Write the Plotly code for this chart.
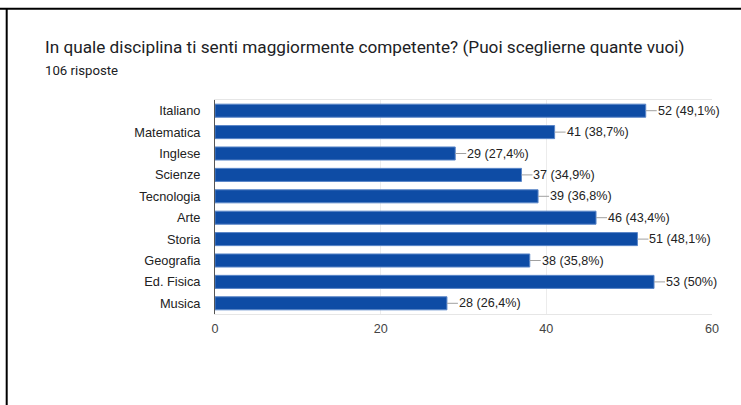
"""
Horizontal bar chart: discipline survey (Google Forms style).
"""
import plotly.graph_objects as go

subjects = ['Italiano', 'Matematica', 'Inglese', 'Scienze', 'Tecnologia',
            'Arte', 'Storia', 'Geografia', 'Ed. Fisica', 'Musica']
counts = [52, 41, 29, 37, 39, 46, 51, 38, 53, 28]
percents = ['49,1%', '38,7%', '27,4%', '34,9%', '36,8%',
            '43,4%', '48,1%', '35,8%', '50%', '26,4%']
x_ticks = [0, 20, 40, 60]

title_text = 'In quale disciplina ti senti maggiormente competente? (Puoi sceglierne quante vuoi)'
subtitle_text = '106 risposte'

W, H = 741, 405
L, R, T, B = 215, 29, 100, 91
pw, ph = W - L - R, H - T - B


def px_x(x):
    return (x - L) / pw


def px_y(y):
    return (H - B - y) / ph


fig = go.Figure()

fig.add_trace(go.Bar(
    x=counts,
    y=subjects,
    orientation='h',
    marker=dict(color='#0e4ca5', line=dict(color='#5a86c8', width=1)),
    width=0.61,
    hoverinfo='skip'
))

# value labels with short grey leader line
annotations = []
for s, c, p in zip(subjects, counts, percents):
    annotations.append(dict(
        x=c, y=s, xref='x', yref='y',
        text=f'{c} ({p})',
        showarrow=True, arrowhead=0, arrowwidth=1, arrowcolor='#a0a0a0',
        ax=11, ay=0, xanchor='left', borderpad=0,
        font=dict(family='Liberation Sans, Arial', size=12.6, color='#222222')
    ))

annotations.append(dict(
    x=px_x(43), y=px_y(47), xref='paper', yref='paper',
    text=title_text, showarrow=False, xanchor='left', yanchor='middle',
    font=dict(family='Roboto', size=17.2, color='#202124')
))
annotations.append(dict(
    x=px_x(43), y=px_y(71), xref='paper', yref='paper',
    text=subtitle_text, showarrow=False, xanchor='left', yanchor='middle',
    font=dict(family='Roboto', size=13.2, color='#202124')
))

# black frame (top + left) from the screenshot
shapes = [
    dict(type='line', xref='paper', yref='paper',
         x0=px_x(0), x1=px_x(W), y0=px_y(8.7), y1=px_y(8.7),
         line=dict(color='black', width=2)),
    dict(type='line', xref='paper', yref='paper',
         x0=px_x(6.7), x1=px_x(6.7), y0=px_y(8.7), y1=px_y(H),
         line=dict(color='black', width=2)),
]

fig.update_layout(
    width=W, height=H,
    margin=dict(l=L, r=R, t=T, b=B),
    paper_bgcolor='white',
    plot_bgcolor='white',
    showlegend=False,
    annotations=annotations,
    shapes=shapes,
    xaxis=dict(
        range=[0, 60], tickvals=x_ticks, ticks='',
        showgrid=True, gridcolor='#ececec', gridwidth=1,
        zeroline=False, showline=True, mirror=True, linecolor='#e6e6e6',
        ticklabelstandoff=3,
        tickfont=dict(family='Liberation Sans, Arial', size=12.6, color='#444444'),
        fixedrange=True
    ),
    yaxis=dict(
        categoryorder='array', categoryarray=subjects[::-1],
        showgrid=False, zeroline=False, ticks='',
        showline=True, linecolor='#555555', linewidth=1,
        ticklabelstandoff=11,
        tickfont=dict(family='Liberation Sans, Arial', size=12.8, color='#222222'),
        fixedrange=True
    ),
)

# the page's default 8px body margin would shift the whole chart
fig.write_html('out.html', config={'displayModeBar': False},
               post_script="document.body.style.margin='0';")
